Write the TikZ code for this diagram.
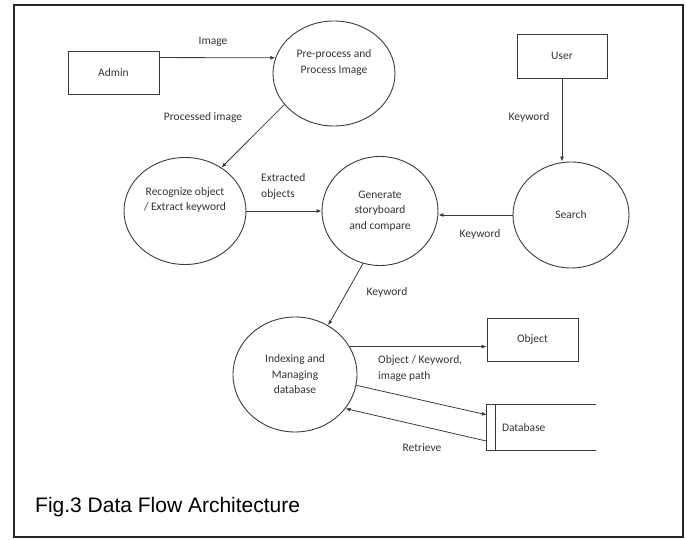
\documentclass[tikz,border=0pt]{standalone}
\usepackage{fontspec}
\setmainfont{Carlito}
\newfontfamily\capfont{Liberation Sans}
\usetikzlibrary{shapes.geometric,arrows.meta,calc}
\definecolor{ln}{HTML}{3A3A3A}
\definecolor{tx}{HTML}{333333}
\begin{document}
\begin{tikzpicture}[x=1pt,y=-1pt,
  proc/.style={ellipse,draw=ln,line width=0.9pt,align=center,text=tx,font=\fontsize{11.5}{15.5}\selectfont,inner sep=0pt},
  ent/.style={rectangle,draw=ln,line width=0.9pt,text=tx,font=\fontsize{11.5}{13}\selectfont},
  lbl/.style={text=tx,font=\fontsize{11.5}{16}\selectfont,inner sep=0pt},
  flow/.style={draw=ln,line width=0.8pt,-{Latex[length=5pt,width=4pt]}}]
\useasboundingbox (0,0) rectangle (686,540);
\draw[line width=1.6pt,draw=black!85] (14,5) rectangle (683,537);

% entities
\node[ent,minimum width=91pt,minimum height=43pt] (admin) at (113.5,72.5) {Admin};
\node[ent,minimum width=90pt,minimum height=44pt] (user) at (562,56) {User};
\node[ent,minimum width=91pt,minimum height=43pt] (object) at (532.5,339.5) {Object};

% processes
\node[proc,minimum width=122pt,minimum height=105pt] (pre) at (334,73.5) {Pre-process and\\Process Image\\[8pt]};
\node[proc,minimum width=122pt,minimum height=107pt] (recog) at (185,211) {Recognize object\\/ Extract keyword\\[8pt]};
\node[proc,minimum width=116pt,minimum height=109pt] (gen) at (380,211) {\\[-8pt]Generate\\storyboard\\and compare};
\node[proc,minimum width=116pt,minimum height=106pt] (search) at (571,215) {Search};
\node[proc,minimum width=124pt,minimum height=115pt] (idx) at (295,374.5) {Indexing and\\Managing\\database};

% data store
\node[minimum width=109pt,minimum height=45pt,inner sep=0pt] (db) at (541.5,427.5) {};
\draw[ln,line width=0.9pt] (db.north east) -- (db.north west) -- (db.south west) -- (db.south east);
\draw[ln,line width=0.9pt] ($(db.north west)+(9,0)$) -- ($(db.south west)+(9,0)$);
\node[lbl,anchor=west] (dblabel) at ($(db.west)+(15,0)$) {Database};

% flows
\draw[flow] (admin.18) -- (pre.165);
\draw[flow] (pre.212) -- (recog.50);
\draw[flow] (recog.east) -- (gen.west);
\draw[flow] (search.west) -- (search.west -| gen.east);
\draw[flow] (user.south) -- (user.south |- search.north);
\draw[flow] (gen.252) -- (idx.56);
\draw[flow] (idx.27) -- (idx.27 -| object.west);
\draw[flow] (idx.-10) -- (db.167);
\draw[flow] (db.194) -- (idx.-34);

% labels
\node[lbl] (limage) at (213,42) {Image};
\node[lbl] (lproc) at (203,117) {Processed image};
\node[lbl,align=left,anchor=west] (lext) at (261,186) {Extracted\\objects};
\node[lbl] (lkw1) at (529,117) {Keyword};
\node[lbl] (lkw2) at (480,234) {Keyword};
\node[lbl] (lkw3) at (387,292) {Keyword};
\node[lbl,align=left,anchor=west] (lobj) at (378,368) {Object / Keyword,\\image path};
\node[lbl] (lret) at (422,448) {Retrieve};

\node[anchor=west,inner sep=0pt,font=\capfont\fontsize{21}{24}\selectfont] (cap) at (35,507) {Fig.3 Data Flow Architecture};
\end{tikzpicture}
\end{document}
